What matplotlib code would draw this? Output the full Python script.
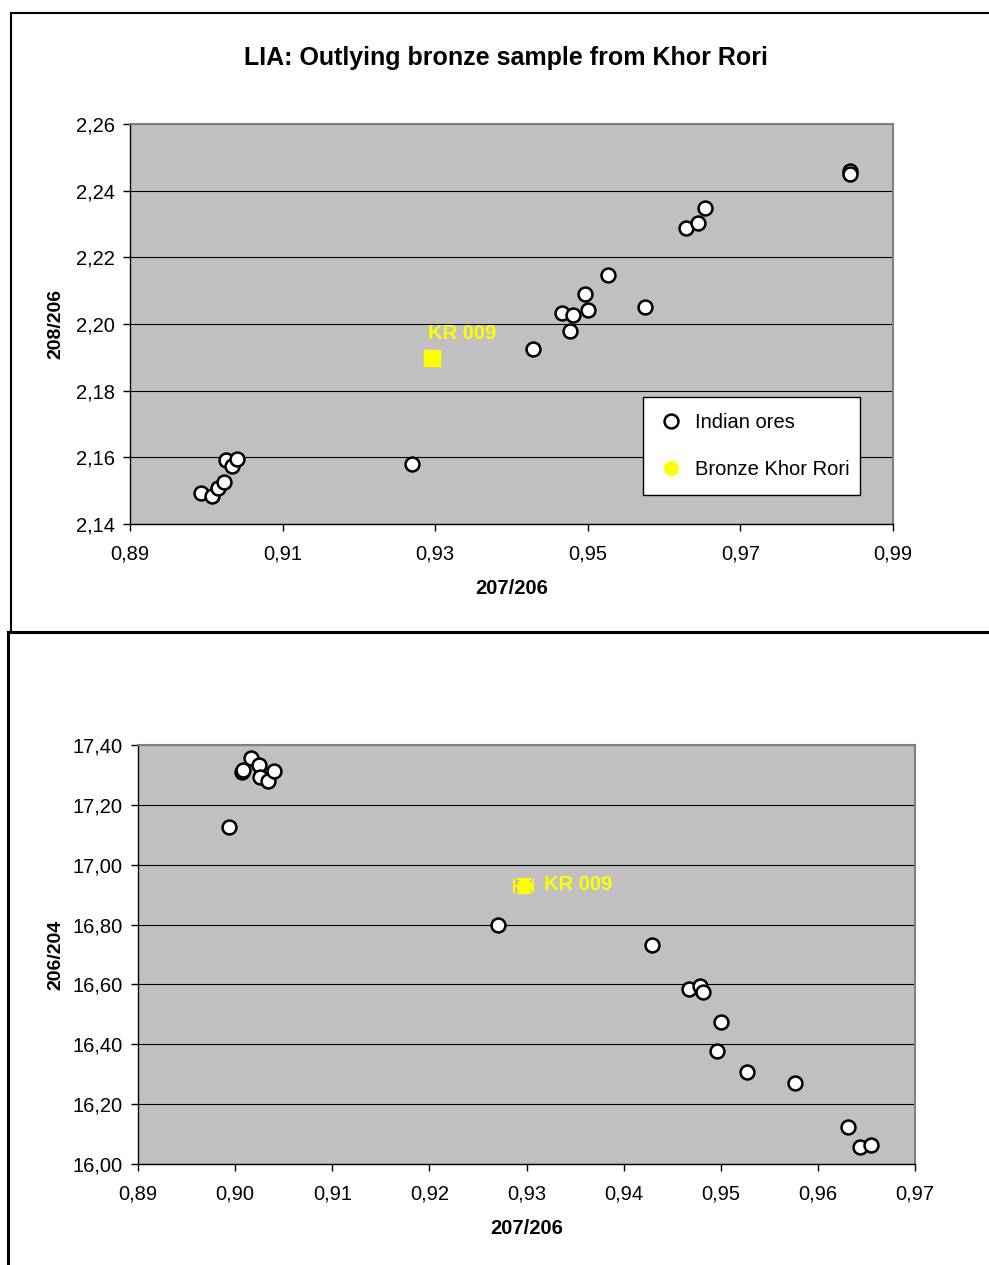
import matplotlib
matplotlib.use("Agg")
import matplotlib.pyplot as plt
import matplotlib.ticker as mtick
from matplotlib.lines import Line2D

plt.rcParams['font.family'] = ['Liberation Sans', 'DejaVu Sans']

# ---- data: upper chart (208/206 vs 207/206) ----
ores_x_top = [0.8993, 0.9007, 0.9015, 0.9023, 0.9026, 0.9034, 0.9040, 0.9270,
              0.9428, 0.9466, 0.9481, 0.9477, 0.9496, 0.9500, 0.9526, 0.9575,
              0.9629, 0.9644, 0.9654, 0.9844, 0.9844]
ores_y_top = [2.1493, 2.1484, 2.1508, 2.1526, 2.1592, 2.1574, 2.1595, 2.1580,
              2.1925, 2.2033, 2.2027, 2.1979, 2.2090, 2.2042, 2.2147, 2.2051,
              2.2288, 2.2303, 2.2348, 2.2459, 2.2451]
kr_x_top = [0.9296]
kr_y_top = [2.1898]
xticks_top = [0.89, 0.91, 0.93, 0.95, 0.97, 0.99]
yticks_top = [2.14, 2.16, 2.18, 2.20, 2.22, 2.24, 2.26]

# ---- data: lower chart (206/204 vs 207/206) ----
ores_x_bot = [0.8994, 0.9007, 0.9008, 0.9016, 0.9025, 0.9026, 0.9034, 0.9040,
              0.9271, 0.9429, 0.9467, 0.9479, 0.9482, 0.9500, 0.9496, 0.9527,
              0.9576, 0.9631, 0.9643, 0.9655, 0.9844]
ores_y_bot = [17.126, 17.310, 17.318, 17.357, 17.333, 17.293, 17.280, 17.313,
              16.799, 16.732, 16.585, 16.595, 16.575, 16.474, 16.377, 16.307,
              16.271, 16.124, 16.057, 16.063, 16.010]
kr_x_bot = [0.9297]
kr_y_bot = [16.929]
xticks_bot = [0.89, 0.90, 0.91, 0.92, 0.93, 0.94, 0.95, 0.96, 0.97]
yticks_bot = [16.0, 16.2, 16.4, 16.6, 16.8, 17.0, 17.2, 17.4]

W, H = 989, 1265
fig = plt.figure(figsize=(W / 100, H / 100), dpi=100)


def px_axes(left, top, right, bottom):
    return fig.add_axes([left / W, 1 - bottom / H, (right - left) / W, (bottom - top) / H])


def comma(dec):
    return mtick.FuncFormatter(lambda v, p: f"{v:.{dec}f}".replace('.', ','))


def style(ax, xticks, yticks):
    ax.set_facecolor('#C0C0C0')
    ax.set_xlim(xticks[0], xticks[-1])
    ax.set_ylim(yticks[0], yticks[-1])
    ax.set_xticks(xticks)
    ax.set_yticks(yticks)
    ax.xaxis.set_major_formatter(comma(2))
    ax.yaxis.set_major_formatter(comma(2))
    ax.grid(axis='y', color='black', linewidth=0.8)
    ax.set_axisbelow(True)
    for s in ['top', 'right']:
        ax.spines[s].set_color('#808080')
        ax.spines[s].set_linewidth(1.5)
    for s in ['left', 'bottom']:
        ax.spines[s].set_color('black')
        ax.spines[s].set_linewidth(1.0)
    ax.tick_params(direction='out', length=5, width=1, labelsize=14.5)
    ax.tick_params(axis='x', pad=10)
    ax.tick_params(axis='y', pad=6)


# ---------- upper chart ----------
ax1 = px_axes(130, 124, 893, 524)
style(ax1, xticks_top, yticks_top)
ax1.plot(ores_x_top, ores_y_top, 'o', ms=10, mfc='white', mec='black', mew=1.8,
         label='Indian ores', zorder=3)
ax1.errorbar(kr_x_top, kr_y_top, xerr=0.0008, yerr=0.0015, fmt='s', ms=11,
             color='yellow', mfc='yellow', mec='yellow', ecolor='yellow',
             elinewidth=1, capsize=4, zorder=4)
ax1.plot([], [], 'o', ms=10, color='yellow', label='Bronze Khor Rori')
ax1.text(kr_x_top[0] - 0.0005, kr_y_top[0] + 0.0045, 'KR 009', color='yellow',
         fontsize=14.5, fontweight='bold', va='bottom', ha='left')
ax1.set_xlabel('207/206', fontsize=14.5, fontweight='bold', labelpad=11)
ax1.set_ylabel('208/206', fontsize=14, fontweight='bold', labelpad=8)
fig.text(506 / W, 1 - 58 / H, 'LIA: Outlying bronze sample from Khor Rori',
         ha='center', va='center', fontsize=18, fontweight='bold')
leg = ax1.legend(loc='upper left', bbox_to_anchor=(643 / W, 1 - 492 / H, 217 / W, 95 / H),
                 bbox_transform=fig.transFigure, mode='expand', fontsize=14.5,
                 frameon=True, fancybox=False, framealpha=1, edgecolor='black',
                 borderpad=0.8, labelspacing=1.4, handletextpad=0.6, handlelength=1.2,
                 borderaxespad=0)
leg.get_frame().set_linewidth(1)

# ---------- lower chart ----------
ax2 = px_axes(138, 745, 915, 1164)
style(ax2, xticks_bot, yticks_bot)
ax2.plot(ores_x_bot, ores_y_bot, 'o', ms=10, mfc='white', mec='black', mew=1.8, zorder=3)
ax2.errorbar(kr_x_bot, kr_y_bot, xerr=0.001, yerr=0.022, fmt='o', ms=10,
             color='yellow', ecolor='yellow', elinewidth=1.5, capsize=5, capthick=1.5,
             zorder=4)
ax2.text(kr_x_bot[0] + 0.0021, kr_y_bot[0] + 0.005, 'KR 009', color='yellow',
         fontsize=14.5, fontweight='bold', va='center', ha='left')
ax2.set_xlabel('207/206', fontsize=14.5, fontweight='bold', labelpad=11)
ax2.set_ylabel('206/204', fontsize=14, fontweight='bold', labelpad=6)

# ---------- chart frames ----------
def fl(xs, ys, lw):
    fig.add_artist(Line2D([x / W for x in xs], [1 - y / H for y in ys],
                          color='black', linewidth=lw, transform=fig.transFigure))

fl([11, 11], [13, 632], 1.5)
fl([11, W], [13, 13], 1.5)
fl([8, W], [632, 632], 2.2)
fl([8, 8], [632, H], 2.2)

fig.savefig('out.png', dpi=100)
